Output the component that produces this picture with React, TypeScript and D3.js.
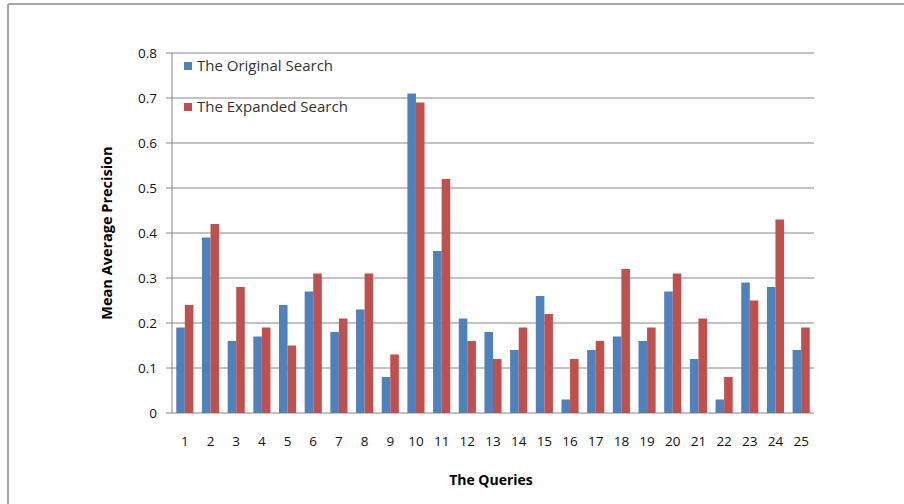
import * as React from 'react';
import * as d3 from 'd3';

const queries = ['1','2','3','4','5','6','7','8','9','10','11','12','13','14','15','16','17','18','19','20','21','22','23','24','25'];
const originalSearch = [0.19,0.39,0.16,0.17,0.24,0.27,0.18,0.23,0.08,0.71,0.36,0.21,0.18,0.14,0.26,0.03,0.14,0.17,0.16,0.27,0.12,0.03,0.29,0.28,0.14];
const expandedSearch = [0.24,0.42,0.28,0.19,0.15,0.31,0.21,0.31,0.13,0.69,0.52,0.16,0.12,0.19,0.22,0.12,0.16,0.32,0.19,0.31,0.21,0.08,0.25,0.43,0.19];
const seriesNames = ['The Original Search', 'The Expanded Search'];
const seriesColors = ['#4F81BD', '#C0504D'];
const yTicks = [0, 0.1, 0.2, 0.3, 0.4, 0.5, 0.6, 0.7, 0.8];

const width = 904;
const height = 504;
const left = 172;
const right = 814;
const top = 53;
const bottom = 413;
const font = '"Open Sans", Lato, sans-serif';

export default function App() {
  const x = d3.scaleBand().domain(queries).range([left, right]).paddingInner(1 / 3).paddingOuter(1 / 6);
  const sub = d3.scaleBand().domain(['0', '1']).range([0, x.bandwidth()]);
  const y = d3.scaleLinear().domain([0, 0.8]).range([bottom, top]);
  const series = [originalSearch, expandedSearch];

  return (
    <svg width={width} height={height} style={{ position: 'absolute', left: 0, top: 0, background: '#fff' }}>
      {/* outer frame */}
      <line x1={8} y1={4} x2={width} y2={4} stroke="#a6a6a6" strokeWidth={2} />
      <line x1={8} y1={4} x2={8} y2={height} stroke="#a6a6a6" strokeWidth={2} />

      {yTicks.map((t) => (
        <g key={t}>
          <line x1={left - 6} x2={right} y1={y(t)} y2={y(t)} stroke="#868686" strokeWidth={1} />
          <text x={157} y={y(t)} dy="0.35em" textAnchor="end" fontFamily={font} fontSize={13.5} fill="#111">
            {t === 0 ? '0' : d3.format('.1f')(t)}
          </text>
        </g>
      ))}
      <line x1={left} x2={left} y1={top} y2={bottom} stroke="#868686" strokeWidth={1} />

      {series.map((vals, s) =>
        vals.map((v, i) => (
          <rect
            key={`${s}-${i}`}
            x={(x(queries[i]) as number) + (sub(String(s)) as number)}
            y={y(v)}
            width={sub.bandwidth()}
            height={bottom - y(v)}
            fill={seriesColors[s]}
          />
        ))
      )}

      {queries.map((q) => (
        <text key={q} x={(x(q) as number) + x.bandwidth() / 2} y={446} textAnchor="middle" fontFamily={font} fontSize={13.5} fill="#111">
          {q}
        </text>
      ))}

      {seriesNames.map((n, i) => (
        <g key={n} transform={`translate(184, ${62 + i * 41})`}>
          <rect x={0} y={0} width={8} height={8} fill={seriesColors[i]} />
          <text x={13} y={4} dy="0.35em" fontFamily={font} fontSize={15} fill="#333">{n}</text>
        </g>
      ))}

      <text x={491} y={485} textAnchor="middle" fontFamily={font} fontSize={14} fontWeight="bold" fill="#000">The Queries</text>
      <text transform={`translate(112, ${(top + bottom) / 2}) rotate(-90)`} textAnchor="middle" fontFamily={font} fontSize={14.5} fontWeight="bold" fill="#000">
        Mean Average Precision
      </text>
    </svg>
  );
}
